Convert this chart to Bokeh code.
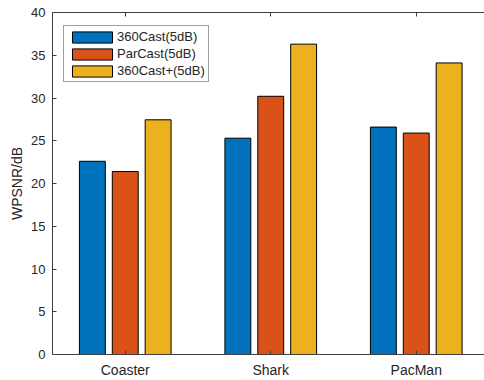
from bokeh.plotting import figure
from bokeh.models import (ColumnDataSource, Range1d, FixedTicker, LinearAxis,
                          Legend, LegendItem)
from bokeh.transform import dodge
from bokeh.embed import file_html
from bokeh.resources import INLINE

categories = ["Coaster", "Shark", "PacMan"]
series_names = ["360Cast(5dB)", "ParCast(5dB)", "360Cast+(5dB)"]
cast360 = [22.6, 25.3, 26.6]
parcast = [21.4, 30.2, 25.9]
cast360plus = [27.45, 36.3, 34.1]
yticks = [0, 5, 10, 15, 20, 25, 30, 35, 40]
colors = ["#0072BD", "#D95319", "#EDB120"]

FONT = "Liberation Sans"
TXT = "#262626"
AX = "#404040"

xs = list(range(1, len(categories) + 1))
src = ColumnDataSource(dict(x=xs, a=cast360, b=parcast, c=cast360plus))

p = figure(width=484, height=380, output_backend="svg", toolbar_location=None,
           x_range=Range1d(0.5, 0.5 + 432 / 145.5), y_range=Range1d(0, 40),
           min_border_left=52, min_border_top=12, min_border_right=0,
           min_border_bottom=26)
p.outline_line_color = None
p.xgrid.visible = False
p.ygrid.visible = False
p.background_fill_color = "white"
p.border_fill_color = "white"

offsets = [-0.226, 0.0, 0.226]
rends = []
for col, off, color in zip(["a", "b", "c"], offsets, colors):
    r = p.vbar(x=dodge("x", off), top=col, bottom=0, width=0.178, source=src,
               fill_color=color, line_color="black", line_width=1)
    rends.append(r)

for ax in (p.xaxis[0], p.yaxis[0]):
    ax.major_tick_in = 4
    ax.major_tick_out = 0
    ax.minor_tick_in = 0
    ax.minor_tick_out = 0
    ax.axis_line_color = AX
    ax.major_tick_line_color = AX
    ax.major_label_text_font = FONT
    ax.major_label_text_color = TXT

p.xaxis.ticker = FixedTicker(ticks=xs)
p.xaxis.major_label_overrides = {x: c for x, c in zip(xs, categories)}
p.xaxis.major_label_standoff = 7
p.xaxis.major_label_text_font_size = "14px"

p.yaxis.ticker = FixedTicker(ticks=yticks)
p.yaxis.major_label_standoff = 7
p.yaxis.major_label_text_font_size = "13px"
p.yaxis.axis_label = "WPSNR/dB"
p.yaxis.axis_label_text_font = FONT
p.yaxis.axis_label_text_font_size = "14px"
p.yaxis.axis_label_text_font_style = "normal"
p.yaxis.axis_label_text_color = TXT
p.yaxis.axis_label_standoff = 3

top = LinearAxis(ticker=FixedTicker(ticks=xs),
                 major_label_overrides={x: "" for x in xs},
                 major_label_standoff=0, major_tick_in=4, major_tick_out=0,
                 minor_tick_in=0, minor_tick_out=0, axis_line_color=AX,
                 major_tick_line_color=AX)
p.add_layout(top, "above")

legend = Legend(items=[LegendItem(label=n, renderers=[r]) for n, r in zip(series_names, rends)],
                location=(11, 272), glyph_width=50, glyph_height=14,
                label_height=14, spacing=2, padding=3, label_standoff=0,
                label_text_font=FONT, label_text_font_size="13px",
                label_text_color=TXT, border_line_color=AX, border_line_width=1,
                background_fill_color="white", background_fill_alpha=1.0)
p.add_layout(legend)

open("out.html", "w").write(file_html(p, INLINE))
